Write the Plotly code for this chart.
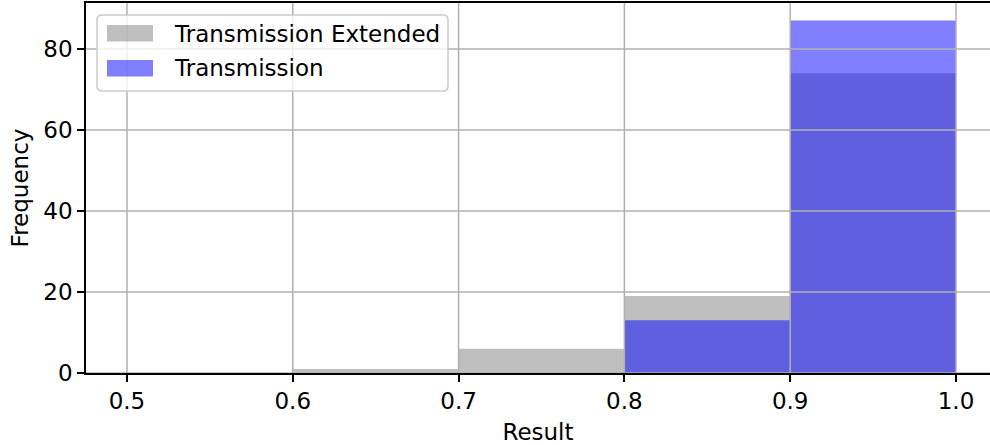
import plotly.graph_objects as go

# Histogram bins (shared edges) and counts per series
bin_edges = [0.5, 0.6, 0.7, 0.8, 0.9, 1.0]
extended_counts = [0, 1, 6, 19, 74]
transmission_counts = [0, 0, 0, 13, 87]

series_names = ["Transmission Extended", "Transmission"]
series_colors = ["rgba(128,128,128,0.5)", "rgba(0,0,255,0.5)"]

x_ticks = [0.5, 0.6, 0.7, 0.8, 0.9, 1.0]
x_tick_labels = ["0.5", "0.6", "0.7", "0.8", "0.9", "1.0"]
y_ticks = [0, 20, 40, 60, 80]

centers = [(a + b) / 2 for a, b in zip(bin_edges[:-1], bin_edges[1:])]
widths = [b - a for a, b in zip(bin_edges[:-1], bin_edges[1:])]

FONT = "DejaVu Sans"
FS = 23
GRID = "#b0b0b0"

# plot area in pixels
W, H = 990, 445
L, R, T, B = 86, 0, 3, 72
PW, PH = W - L - R, H - T - B


def px(xp):
    return (xp - L) / PW


def py(yp):
    return (H - B - yp) / PH


fig = go.Figure()
for counts, name, color in zip([extended_counts, transmission_counts], series_names, series_colors):
    fig.add_trace(go.Bar(
        x=centers, y=counts, width=widths, name=name,
        marker=dict(color=color, line=dict(width=0)),
        showlegend=False,
    ))

# grid drawn over the bars
for xv in x_ticks:
    fig.add_shape(type="line", xref="x", yref="paper", x0=xv, x1=xv, y0=0, y1=1,
                  line=dict(color=GRID, width=1.5), layer="above")
for yv in y_ticks:
    fig.add_shape(type="line", xref="paper", yref="y", x0=0, x1=1, y0=yv, y1=yv,
                  line=dict(color=GRID, width=1.5), layer="above")

# legend box with rounded corners
bx0, bx1, by0, by1, rad = 97, 448, 15, 91, 5
legend_path = (
    f"M {px(bx0 + rad)} {py(by0)} L {px(bx1 - rad)} {py(by0)} "
    f"Q {px(bx1)} {py(by0)} {px(bx1)} {py(by0 + rad)} "
    f"L {px(bx1)} {py(by1 - rad)} Q {px(bx1)} {py(by1)} {px(bx1 - rad)} {py(by1)} "
    f"L {px(bx0 + rad)} {py(by1)} Q {px(bx0)} {py(by1)} {px(bx0)} {py(by1 - rad)} "
    f"L {px(bx0)} {py(by0 + rad)} Q {px(bx0)} {py(by0)} {px(bx0 + rad)} {py(by0)} Z"
)
fig.add_shape(type="path", xref="paper", yref="paper", path=legend_path,
              fillcolor="rgba(255,255,255,0.8)", line=dict(color="#cccccc", width=1.5),
              layer="above")

row_tops = [25, 60]
for top, name, color in zip(row_tops, series_names, series_colors):
    fig.add_shape(type="rect", xref="paper", yref="paper",
                  x0=px(107), x1=px(153), y0=py(top), y1=py(top + 16.5),
                  fillcolor=color, line=dict(width=0), layer="above")
    fig.add_annotation(xref="paper", yref="paper", x=px(172), y=py(top + 8.5),
                       xanchor="left", yanchor="middle", showarrow=False,
                       text=name, font=dict(family=FONT, size=FS, color="black"))

fig.update_layout(
    width=W, height=H,
    margin=dict(l=L, r=R, t=T, b=B),
    barmode="overlay",
    plot_bgcolor="white", paper_bgcolor="white",
    font=dict(family=FONT, size=FS, color="black"),
    showlegend=False,
    xaxis=dict(
        range=[0.4753, 1.0205],
        tickmode="array", tickvals=x_ticks, ticktext=x_tick_labels,
        ticks="outside", ticklen=7, tickwidth=1.6, tickcolor="black",
        showline=True, linecolor="black", linewidth=1.6, mirror=True,
        showgrid=False, zeroline=False, layer="above traces",
        title=dict(text="Result", standoff=12, font=dict(family=FONT, size=FS)),
    ),
    yaxis=dict(
        range=[0, 91.35],
        tickmode="array", tickvals=y_ticks,
        ticks="outside", ticklen=7, tickwidth=1.6, tickcolor="black",
        showline=True, linecolor="black", linewidth=1.6,
        showgrid=False, zeroline=False, layer="above traces",
        title=dict(text="Frequency", standoff=8, font=dict(family=FONT, size=FS)),
    ),
)

fig.write_html("out.html")
